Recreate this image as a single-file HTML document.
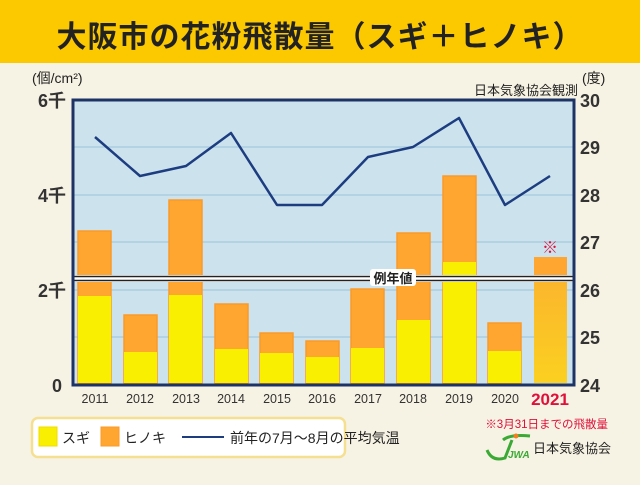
<!DOCTYPE html>
<html><head><meta charset="utf-8"><style>
body{margin:0;width:640px;height:480px;overflow:hidden;background:#f7f3e4;font-family:"Liberation Sans","Noto Sans CJK JP",sans-serif;}
</style></head><body>
<svg width="640" height="480" xmlns="http://www.w3.org/2000/svg" font-family="Liberation Sans, Noto Sans CJK JP, sans-serif">
<rect x="0" y="0" width="640" height="480" fill="#f7f3e4"/>
<rect x="0" y="0" width="640" height="63" fill="#fcc800"/>
<text x="320" y="47" text-anchor="middle" font-size="30" font-weight="bold" fill="#222" letter-spacing="1">大阪市の花粉飛散量（スギ＋ヒノキ）</text>
<rect x="73" y="100" width="501" height="285" fill="#cce3ee"/>
<g stroke="#b3d3e4" stroke-width="2">
<line x1="73" y1="147" x2="574" y2="147"/><line x1="73" y1="195" x2="574" y2="195"/>
<line x1="73" y1="242" x2="574" y2="242"/><line x1="73" y1="290" x2="574" y2="290"/>
<line x1="73" y1="337" x2="574" y2="337"/></g>
<defs><linearGradient id="g21" x1="0" y1="0" x2="0" y2="1"><stop offset="0" stop-color="#fbb030"/><stop offset="1" stop-color="#fbd020"/></linearGradient></defs>
<g stroke-width="1.5">
<rect x="78" y="231" width="33" height="152" fill="#ffa630" stroke="#fb9a28"/><rect x="78" y="296" width="33" height="87" fill="#f8f000"/>
<rect x="124" y="315" width="33" height="68" fill="#ffa630" stroke="#fb9a28"/><rect x="124" y="352" width="33" height="31" fill="#f8f000"/>
<rect x="169" y="200" width="33" height="183" fill="#ffa630" stroke="#fb9a28"/><rect x="169" y="295" width="33" height="88" fill="#f8f000"/>
<rect x="215" y="304" width="33" height="79" fill="#ffa630" stroke="#fb9a28"/><rect x="215" y="349" width="33" height="34" fill="#f8f000"/>
<rect x="260" y="333" width="33" height="50" fill="#ffa630" stroke="#fb9a28"/><rect x="260" y="353" width="33" height="30" fill="#f8f000"/>
<rect x="306" y="341" width="33" height="42" fill="#ffa630" stroke="#fb9a28"/><rect x="306" y="357" width="33" height="26" fill="#f8f000"/>
<rect x="351" y="289" width="33" height="94" fill="#ffa630" stroke="#fb9a28"/><rect x="351" y="348" width="33" height="35" fill="#f8f000"/>
<rect x="397" y="233" width="33" height="150" fill="#ffa630" stroke="#fb9a28"/><rect x="397" y="320" width="33" height="63" fill="#f8f000"/>
<rect x="443" y="176" width="33" height="207" fill="#ffa630" stroke="#fb9a28"/><rect x="443" y="262" width="33" height="121" fill="#f8f000"/>
<rect x="488" y="323" width="33" height="60" fill="#ffa630" stroke="#fb9a28"/><rect x="488" y="351" width="33" height="32" fill="#f8f000"/>
<rect x="534" y="257" width="33" height="126" fill="url(#g21)"/><rect x="534" y="257" width="33" height="22" fill="#ffa630"/>
</g>
<text x="550" y="253" text-anchor="middle" font-size="16" fill="#e0103a" font-weight="bold">※</text>
<rect x="73" y="275" width="501" height="7" fill="#fff"/>
<line x1="73" y1="276.5" x2="574" y2="276.5" stroke="#222" stroke-width="1.5"/>
<line x1="73" y1="280.5" x2="574" y2="280.5" stroke="#222" stroke-width="1.5"/>
<rect x="370" y="269" width="46" height="17" fill="#fff" rx="3"/>
<text x="393" y="283" text-anchor="middle" font-size="13" fill="#222" font-weight="bold">例年値</text>
<polyline fill="none" stroke="#1d3d80" stroke-width="2.5" stroke-linejoin="round" points="95,137 140,176 186,166 231,133 277,205 322,205 368,157 413,147 459,118 505,205 550,176"/>
<rect x="73" y="100" width="501" height="285" fill="none" stroke="#1d3366" stroke-width="3"/>
<g font-size="18" font-weight="bold" fill="#333">
<text x="66" y="107" text-anchor="end">6千</text><text x="66" y="202" text-anchor="end">4千</text>
<text x="66" y="297" text-anchor="end">2千</text><text x="62" y="392" text-anchor="end">0</text>
<text x="580" y="107">30</text><text x="580" y="154">29</text><text x="580" y="202">28</text>
<text x="580" y="249">27</text><text x="580" y="297">26</text><text x="580" y="344">25</text><text x="580" y="392">24</text>
</g>
<text x="32" y="83" font-size="14" fill="#222">(個/cm²)</text>
<text x="582" y="83" font-size="14" fill="#222">(度)</text>
<text x="578" y="95" text-anchor="end" font-size="13" fill="#222">日本気象協会観測</text>
<g font-size="12.5" fill="#333" text-anchor="middle">
<text x="95" y="403">2011</text><text x="140" y="403">2012</text><text x="186" y="403">2013</text>
<text x="231" y="403">2014</text><text x="277" y="403">2015</text><text x="322" y="403">2016</text>
<text x="368" y="403">2017</text><text x="413" y="403">2018</text><text x="459" y="403">2019</text>
<text x="505" y="403">2020</text></g>
<text x="550" y="405" text-anchor="middle" font-size="17" font-weight="bold" fill="#e0103a">2021</text>
<rect x="32" y="418" width="313" height="39" rx="6" fill="#fff" stroke="#f5df90" stroke-width="2.5"/>
<rect x="39" y="427" width="18" height="19" fill="#f8f000" stroke="#f0dc00"/>
<text x="62" y="443" font-size="14" fill="#222">スギ</text>
<rect x="101" y="427" width="18" height="19" fill="#ffa630" stroke="#fb9a28"/>
<text x="124" y="443" font-size="14" fill="#222">ヒノキ</text>
<line x1="182" y1="437" x2="224" y2="437" stroke="#1d3d80" stroke-width="2"/>
<text x="230" y="443" font-size="14" fill="#222">前年の7月～8月の平均気温</text>
<text x="608" y="428" text-anchor="end" font-size="11.5" fill="#e0103a">※3月31日までの飛散量</text>
<path d="M487 450 Q492 462 505 458 L512 440 M503 440 Q510 434 530 436" fill="none" stroke="#3aaa35" stroke-width="3"/>
<text x="508" y="458" font-size="10" font-style="italic" font-weight="bold" fill="#3aaa35">JWA</text>
<circle cx="516" cy="436" r="2.5" fill="#f08020"/>
<text x="533" y="453" font-size="13" fill="#222">日本気象協会</text>
</svg>
</body></html>
